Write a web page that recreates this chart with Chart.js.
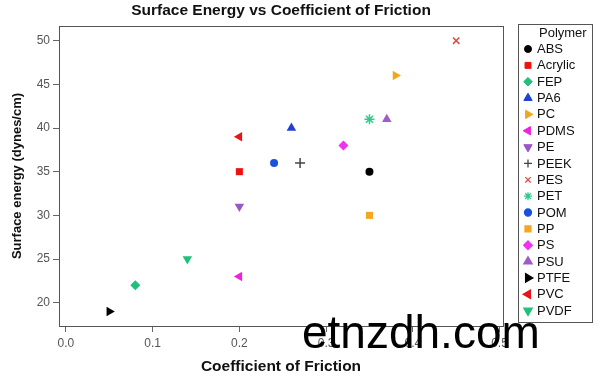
<!DOCTYPE html>
<html>
<head>
<meta charset="utf-8">
<script src="https://cdn.jsdelivr.net/npm/chart.js@4/dist/chart.umd.min.js"></script>
<style>
html,body{margin:0;padding:0;background:#fff;}
#wrap{position:relative;width:600px;height:379px;}
</style>
</head>
<body>
<div id="wrap"><canvas id="c" width="600" height="379"></canvas></div>
<script>
// ---- data ----
const polymers = ["ABS","Acrylic","FEP","PA6","PC","PDMS","PE","PEEK","PES","PET","POM","PP","PS","PSU","PTFE","PVC","PVDF"];
const friction = [0.35, 0.20, 0.08, 0.26, 0.38, 0.20, 0.20, 0.27, 0.45, 0.35, 0.24, 0.35, 0.32, 0.37, 0.05, 0.20, 0.14];
const surfaceEnergy = [35, 35, 22, 40, 46, 23, 31, 36, 50, 41, 36, 30, 38, 41, 19, 39, 25];
const xTicks = [0.0, 0.1, 0.2, 0.3, 0.4, 0.5];
const yTicks = [20, 25, 30, 35, 40, 45, 50];

// ---- styles ----
const colors = ["#000000","#ee1111","#1fc07a","#1f3fd6","#f2a51f","#ee22dd","#9a55c8","#444444","#e04848","#33c98a","#1a4fe0","#f5a623","#f033f0","#a25ac8","#000000","#e8141c","#1fc07a"];
const styles = ["circle","rect","rectRot","triangle","triangle","triangle","triangle","cross","crossRot","star","circle","rect","rectRot","triangle","triangle","triangle","triangle"];
const rotations = [0,0,0,0,90,-90,180,0,0,0,0,0,0,0,90,-90,180];
const strokeOnly = {"cross":true,"crossRot":true,"star":true};
const plotRadius = {"circle":4, "rect":5, "rectRot":5, "triangle":5.5, "cross":5, "crossRot":4.5, "star":5};
const legendRadius = {"circle":3.5, "rect":4.2, "rectRot":4.3, "triangle":4.8, "cross":4, "crossRot":3.8, "star":4};

const datasets = polymers.map((p,i)=>({
  label: p,
  data: [{x: friction[i], y: surfaceEnergy[i]}],
  pointStyle: styles[i],
  rotation: rotations[i],
  pointRadius: plotRadius[styles[i]],
  backgroundColor: colors[i],
  borderColor: colors[i],
  borderWidth: strokeOnly[styles[i]] ? 1.5 : 0
}));

const frame = {
  id: 'frame',
  afterDraw(chart){
    const {ctx, chartArea:a} = chart;
    ctx.save();
    ctx.strokeStyle = '#555';
    ctx.lineWidth = 1;
    ctx.strokeRect(Math.round(a.left)+0.5, Math.round(a.top)+0.5, Math.round(a.right-a.left), Math.round(a.bottom-a.top));
    ctx.restore();
  }
};

const legendBox = {
  id: 'legendBox',
  afterDraw(chart){
    const ctx = chart.ctx;
    ctx.save();
    ctx.strokeStyle = '#555';
    ctx.lineWidth = 1;
    ctx.strokeRect(518.5, 24.5, 74, 298);
    ctx.fillStyle = '#111';
    ctx.font = '13px "Liberation Sans", Arial, sans-serif';
    ctx.textBaseline = 'middle';
    ctx.textAlign = 'left';
    ctx.fillText('Polymer', 539, 33);
    chart.data.datasets.forEach((ds,i)=>{
      const y = 49 + i*16.35;
      ctx.fillStyle = ds.backgroundColor;
      ctx.strokeStyle = ds.borderColor;
      ctx.lineWidth = strokeOnly[ds.pointStyle] ? 1.3 : 0;
      Chart.helpers.drawPoint(ctx, {pointStyle: ds.pointStyle, rotation: ds.rotation, radius: legendRadius[ds.pointStyle], borderWidth: ctx.lineWidth}, 528, y);
      ctx.fillStyle = '#111';
      ctx.fillText(ds.label, 537, y+0.5);
    });
    ctx.restore();
  }
};

const watermark = {
  id: 'watermark',
  afterDraw(chart){
    const ctx = chart.ctx;
    ctx.save();
    ctx.fillStyle = '#000';
    ctx.font = '46px "Liberation Sans", Arial, sans-serif';
    ctx.textBaseline = 'alphabetic';
    ctx.textAlign = 'left';
    ctx.fillText('etnzdh.com', 302, 348);
    ctx.restore();
  }
};

new Chart(document.getElementById('c'), {
  type: 'scatter',
  data: { datasets },
  plugins: [frame, legendBox, watermark],
  options: {
    responsive: false,
    animation: false,
    devicePixelRatio: 1,
    layout: { padding: { left: 5, right: 97, top: 0, bottom: 3 } },
    plugins: {
      legend: { display: false },
      tooltip: { enabled: false },
      title: {
        display: true,
        fullSize: false,
        text: 'Surface Energy vs Coefficient of Friction',
        color: '#111',
        font: { family: '"Liberation Sans", Arial, sans-serif', size: 15.5, weight: 'bold', lineHeight: 1.2 },
        padding: { top: 1.5, bottom: 5.9 }
      }
    },
    scales: {
      x: {
        type: 'linear',
        min: -0.008, max: 0.504,
        afterBuildTicks: s => { s.ticks = xTicks.map(v=>({value:v})); },
        afterFit: s => { s.height = 50; },
        grid: { display: true, drawOnChartArea: false, drawTicks: true, tickLength: 6, color: '#666' },
        border: { display: true, color: '#555' },
        ticks: { color: '#555', padding: 4, font: { family: '"Liberation Sans", Arial, sans-serif', size: 12 }, callback: v => v.toFixed(1), maxRotation: 0 },
        title: { display: true, text: 'Coefficient of Friction', color: '#111', font: { family: '"Liberation Sans", Arial, sans-serif', size: 15.5, weight: 'bold' }, padding: { top: 0, bottom: 0 } }
      },
      y: {
        type: 'linear',
        min: 17.33, max: 51.68,
        afterBuildTicks: s => { s.ticks = yTicks.map(v=>({value:v})); },
        afterFit: s => { s.width = 54; },
        grid: { display: true, drawOnChartArea: false, drawTicks: true, tickLength: 6, color: '#666' },
        border: { display: true, color: '#555' },
        ticks: { color: '#555', padding: 3, font: { family: '"Liberation Sans", Arial, sans-serif', size: 12 } },
        title: { display: true, text: 'Surface energy (dynes/cm)', color: '#111', font: { family: '"Liberation Sans", Arial, sans-serif', size: 13, weight: 'bold' }, padding: { top: 5, bottom: 0 } }
      }
    }
  }
});
</script>
</body>
</html>
